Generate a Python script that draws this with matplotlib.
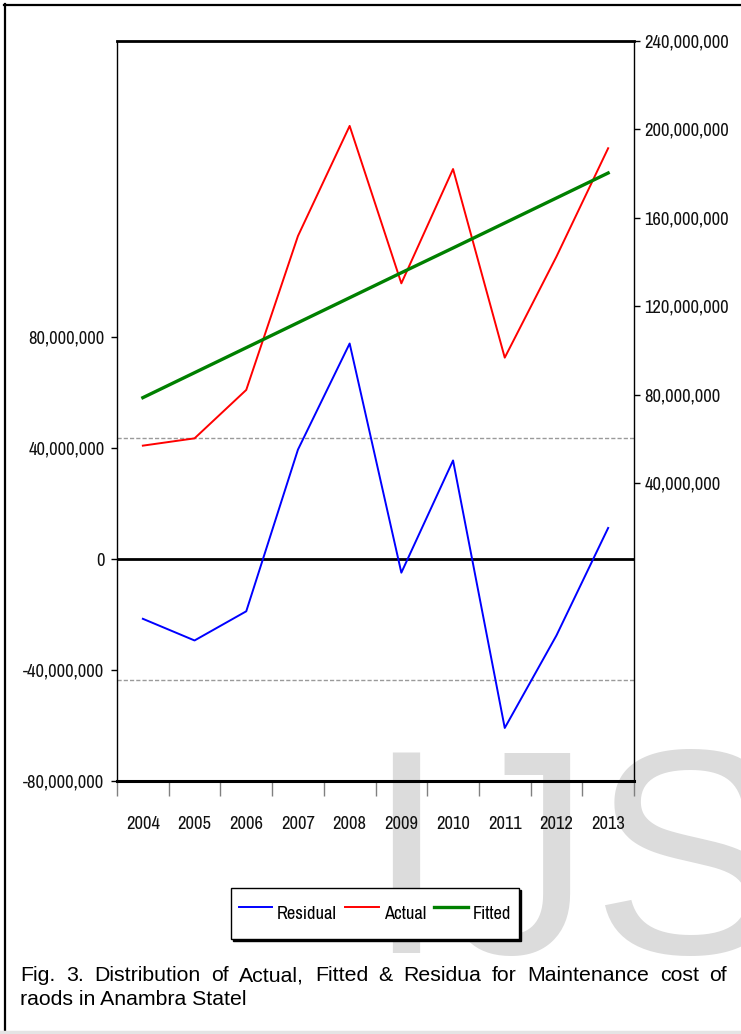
import numpy as np
import matplotlib
matplotlib.use('Agg')
import matplotlib.pyplot as plt
from matplotlib.ticker import FuncFormatter, FixedLocator
from matplotlib.lines import Line2D

# maintenance cost of roads, naira (millions)
years = [2004, 2005, 2006, 2007, 2008, 2009, 2010, 2011, 2012, 2013]
actual = [57.0, 60.3, 82.2, 151.8, 201.6, 130.4, 182.1, 96.8, 142.5, 191.5]
fitted = [78.7, 90.0, 101.3, 112.6, 123.9, 135.2, 146.4, 157.7, 169.0, 180.3]
residual = [-21.5, -29.3, -18.8, 39.4, 77.6, -4.9, 35.5, -60.8, -27.5, 11.2]

resid_ticks = [-80, -40, 0, 40, 80]
level_ticks = [40, 80, 120, 160, 200, 240]

caption1 = "Fig. 3. Distribution of Actual, Fitted & Residua for Maintenance cost of"
caption2 = "raods in Anambra Statel"

W, H = 741, 1034
NARROW = ['Archivo Narrow', 'Liberation Sans Narrow', 'DejaVu Sans']
REGULAR = ['Liberation Sans', 'DejaVu Sans']
TICK_SIZE = 13.3

act = np.array(actual) * 1e6
fit = np.array(fitted) * 1e6
res = np.array(residual) * 1e6

# standard error of the regression (two coefficients)
se = np.sqrt(np.sum(res ** 2) / (len(res) - 2))

fig = plt.figure(figsize=(W / 100, H / 100), dpi=100)
fig.patch.set_facecolor('white')

ax = fig.add_axes([117 / W, 1 - 781.3 / H, 517 / W, 740.3 / H])
ax.set_facecolor('none')
ax2 = ax.twinx()
ax2.set_facecolor('none')

# residual series on the left scale
ax.axhline(0, color='black', lw=2, zorder=2)
ax.axhline(se, color='#9a9a9a', lw=1, ls=(0, (3, 1.5)), zorder=1)
ax.axhline(-se, color='#9a9a9a', lw=1, ls=(0, (3, 1.5)), zorder=1)
l_res, = ax.plot(years, res, color='#0000ff', lw=1.4, zorder=3)

# actual and fitted on the right scale
l_act, = ax2.plot(years, act, color='#ff0000', lw=1.4, zorder=3)
l_fit, = ax2.plot(years, fit, color='#008000', lw=2.4, zorder=4)

ax.set_xlim(years[0] - 0.5, years[-1] + 0.5)
ax.set_ylim(-80e6, 186.5e6)
ax2.set_ylim(-94.8e6, 240e6)

comma = FuncFormatter(lambda v, p: f'{v:,.0f}')
ax.yaxis.set_major_locator(FixedLocator([t * 1e6 for t in resid_ticks]))
ax.yaxis.set_major_formatter(comma)
ax2.yaxis.set_major_locator(FixedLocator([t * 1e6 for t in level_ticks]))
ax2.yaxis.set_major_formatter(comma)

# year labels centred, tick marks between years
ax.xaxis.set_major_locator(FixedLocator([y - 0.5 for y in years] + [years[-1] + 0.5]))
ax.xaxis.set_major_formatter(FuncFormatter(lambda v, p: ''))
ax.xaxis.set_minor_locator(FixedLocator(years))
ax.xaxis.set_minor_formatter(FuncFormatter(lambda v, p: str(int(round(v)))))
ax.tick_params(axis='x', which='major', direction='out', length=11, width=1, color='#808080')
ax.tick_params(axis='x', which='minor', length=0, pad=25)
ax.tick_params(axis='y', direction='out', length=4.5, width=1, pad=4.5)
ax2.tick_params(axis='y', direction='out', length=4.5, width=1, pad=3)

for lab in ax.get_xticklabels(minor=True) + ax.get_yticklabels() + ax2.get_yticklabels():
    lab.set_family(NARROW)
    lab.set_fontsize(TICK_SIZE)
    lab.set_color('#111111')

for side in ['top', 'bottom', 'left', 'right']:
    ax2.spines[side].set_visible(side == 'right')
ax2.spines['right'].set_linewidth(1)
ax.spines['right'].set_visible(False)
ax.spines['left'].set_linewidth(1)
ax.spines['top'].set_linewidth(2)
ax.spines['bottom'].set_linewidth(2.2)

leg = fig.legend([l_res, l_act, l_fit], ['Residual', 'Actual', 'Fitted'],
                 loc='center', bbox_to_anchor=(375 / W, 1 - 913.5 / H), ncol=3,
                 frameon=True, fancybox=False, edgecolor='black', framealpha=1,
                 handlelength=1.8, handleheight=2.6, handletextpad=0.28,
                 columnspacing=0.45, borderpad=0.42, borderaxespad=0,
                 prop={'family': NARROW, 'size': TICK_SIZE},
                 shadow={'ox': 1.5, 'oy': -1.5, 'color': 'black', 'alpha': 1})
leg.get_frame().set_linewidth(1)

# watermark behind the chart
fig.text(365 / W, 1 - 953 / H, 'IJS', fontsize=210, family=REGULAR,
         color='#dcdcdc', ha='left', va='baseline', zorder=-5)

# caption, first line justified
renderer = fig.canvas.get_renderer()
words = caption1.split(' ')
x0, x1 = 20, 727
items = [fig.text(0, 1 - 981 / H, w, fontsize=15.3, family=REGULAR,
                  ha='left', va='baseline') for w in words]
widths = [t.get_window_extent(renderer).width for t in items]
gap = (x1 - x0 - sum(widths)) / (len(words) - 1)
x = x0
for t, w in zip(items, widths):
    t.set_x(x / W)
    x += w + gap
fig.text(x0 / W, 1 - 1005 / H, caption2, fontsize=15.3, family=REGULAR,
         ha='left', va='baseline')

# page frame
fig.add_artist(Line2D([4 / W, 1], [1 - 5 / H] * 2, color='black', lw=1.6,
                      transform=fig.transFigure))
fig.add_artist(Line2D([5 / W] * 2, [1 - 4 / H, 1 - 1030 / H], color='black', lw=1.6,
                      transform=fig.transFigure))
fig.add_artist(Line2D([0, 1], [1 - 1031.5 / H] * 2, color='#e4e4e4', lw=2.5,
                      transform=fig.transFigure))

fig.savefig('out.png', dpi=100)
